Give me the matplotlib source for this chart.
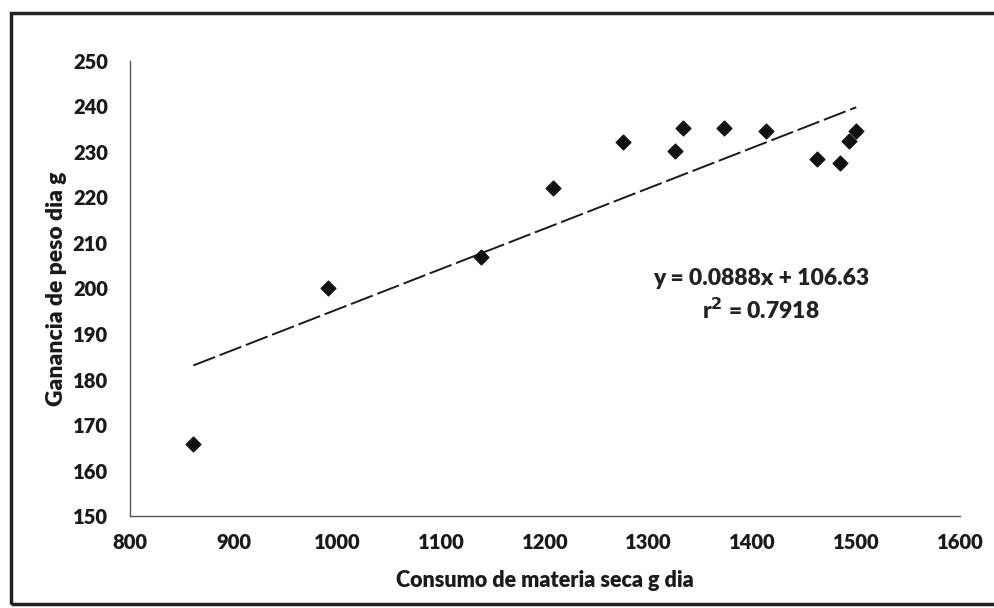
import matplotlib
matplotlib.use('Agg')
import matplotlib.pyplot as plt
from matplotlib.patches import Rectangle
import numpy as np

# dry matter intake (g/day) vs daily weight gain (g)
consumo = [861, 991, 1138, 1208, 1275, 1325, 1333, 1373, 1413, 1462, 1484, 1493, 1500]
ganancia = [165.8, 200.1, 206.9, 222.1, 232.2, 230.2, 235.3, 235.3, 234.6, 228.5, 227.6, 232.4, 234.6]
slope, intercept = 0.0888, 106.63
r2 = 0.7918
xticks = [800, 900, 1000, 1100, 1200, 1300, 1400, 1500, 1600]
yticks = [150, 160, 170, 180, 190, 200, 210, 220, 230, 240, 250]

plt.rcParams['font.family'] = ['Lato', 'DejaVu Sans']
W = 'heavy'

fig = plt.figure(figsize=(9.95, 6.08), dpi=100)
ax = fig.add_axes([0.1307, 0.1513, 0.8341, 0.7484])

ax.scatter(consumo, ganancia, marker='D', s=56, color='#111111', zorder=3)
tx = np.array([min(consumo), max(consumo)])
ax.plot(tx, slope * tx + intercept, color='#1a1a1a', lw=1.4, dashes=(12, 2.5))

ax.set_xlim(800, 1600); ax.set_ylim(150, 250)
ax.set_xticks(xticks); ax.set_yticks(yticks)
ax.tick_params(length=0, labelsize=14.5, labelcolor='#1a1a1a')
ax.tick_params(axis='x', pad=12)
ax.tick_params(axis='y', pad=16)
for lab in ax.get_xticklabels() + ax.get_yticklabels():
    lab.set_fontweight(W)
for s in ('top', 'right'):
    ax.spines[s].set_visible(False)
for s in ('left', 'bottom'):
    ax.spines[s].set_color('#555555'); ax.spines[s].set_linewidth(1.0)

ax.set_xlabel('Consumo de materia seca g dia', fontsize=15.5, fontweight=W,
              color='#1a1a1a', labelpad=13)
ax.set_ylabel('Ganancia de peso dia g', fontsize=16.5, fontweight=W,
              color='#1a1a1a', labelpad=4)

ax.text(1408, 202.2, 'y = 0.0888x + 106.63', ha='center', va='center',
        fontsize=16.5, fontweight=W, color='#222222')
ax.text(1408, 195.3, 'r$^{\\mathbf{2}}$ = %.4f' % r2, ha='center', va='center',
        fontsize=16.5, fontweight=W, color='#222222')

# outer frame of the scanned figure
fig.patches.append(Rectangle((0.011, 0.006), 1.2, 0.972, transform=fig.transFigure,
                             fill=False, ec='#222222', lw=2.5))

fig.savefig('out.png', dpi=100)
